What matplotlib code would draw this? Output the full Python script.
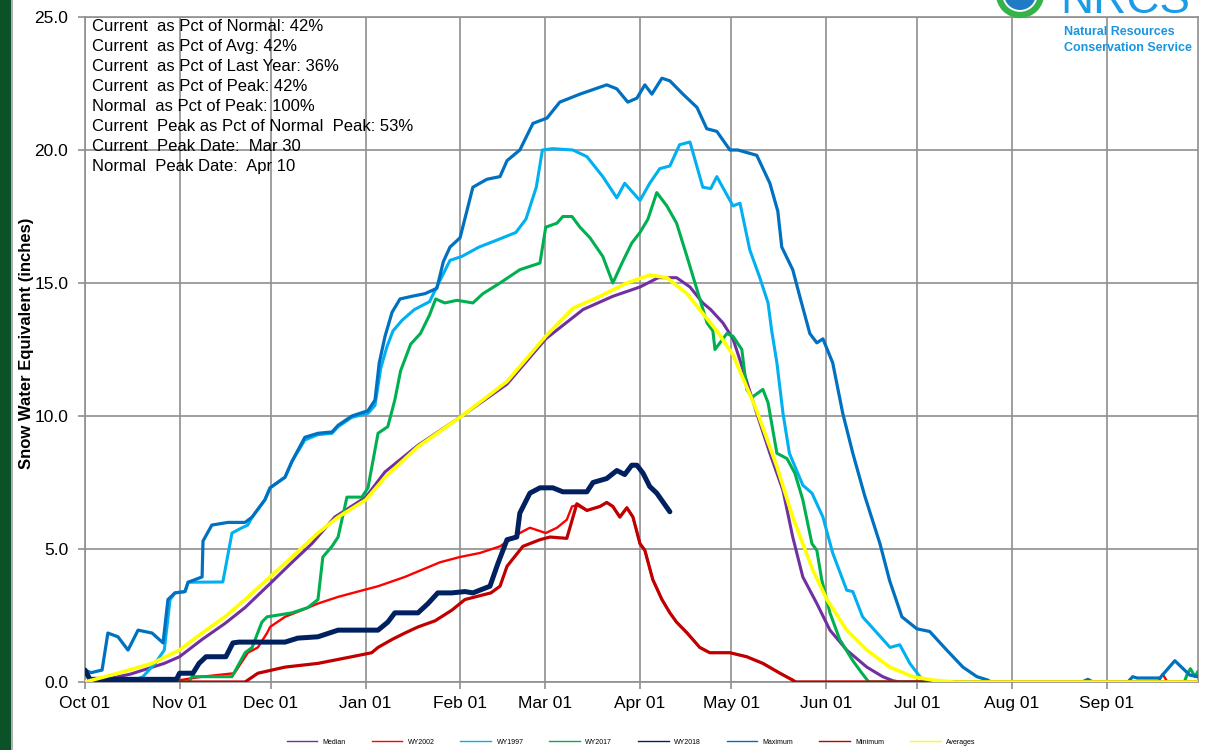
import matplotlib
matplotlib.use("Agg")
import matplotlib.pyplot as plt
from matplotlib.lines import Line2D
from matplotlib.patches import Ellipse, Rectangle

plt.rcParams['font.family'] = ['Liberation Sans', 'DejaVu Sans']

# ---------------- data (day index from Oct 01, SWE inches) ----------------
month_ticks = [0, 31, 61, 92, 123, 151, 182, 212, 243, 273, 304, 335]
month_labels = ["Oct 01", "Nov 01", "Dec 01", "Jan 01", "Feb 01", "Mar 01",
                "Apr 01", "May 01", "Jun 01", "Jul 01", "Aug 01", "Sep 01"]

median_days = [0, 5, 15, 26, 31, 38.4, 45.9, 52.5, 60.7, 67.9, 74.4, 81.9, 92.1, 98.4, 109.2,
               123.6, 138.4, 151.1, 163.3, 173.1, 182, 188, 194, 198.4, 202.6, 205.2, 209.2,
               212.5, 214.8, 220.3, 224.6, 228.9, 232.1, 235.4, 240, 244.3, 249.8, 256.4,
               261.6, 264.9, 267, 365]
median_vals = [0, 0.05, 0.3, 0.7, 0.95, 1.6, 2.2, 2.8, 3.7, 4.5, 5.2, 6.2, 6.95, 7.9, 8.9,
               10.0, 11.2, 12.9, 14.0, 14.5, 14.85, 15.2, 15.2, 14.85, 14.25, 14.0, 13.5,
               12.9, 12.1, 10.1, 8.6, 7.2, 5.45, 3.95, 2.95, 1.95, 1.2, 0.56,
               0.2, 0.05, 0, 0]

wy2002_days = [0, 30, 38.4, 49, 53.4, 56.7, 59.7, 60.7, 65.6, 71.1, 76.4, 83, 89.5, 96.1,
               104.9, 116.4, 123, 129.5, 136.1, 142.6, 145.9, 151.1, 154.8, 158, 159.7,
               161.3, 164.6, 168.9, 171.1, 173.1, 175.4, 177.7, 179.7, 182, 183.6, 186.2,
               189.2, 191.8, 194, 197.4, 201.6, 204.9, 211.5, 217, 222.3, 227.9, 232.1, 233,
               352, 353.4, 355, 365]
wy2002_vals = [0, 0.05, 0.2, 0.33, 1.1, 1.3, 1.84, 2.07, 2.45, 2.7, 2.95, 3.2, 3.4, 3.6,
               3.95, 4.5, 4.7, 4.85, 5.1, 5.6, 5.8, 5.6, 5.8, 6.1, 6.6,
               6.65, 6.45, 6.6, 6.75, 6.6, 6.2, 6.55, 6.2, 5.2, 4.95, 3.85,
               3.1, 2.6, 2.25, 1.85, 1.3, 1.1, 1.1, 0.95, 0.7, 0.33, 0.07, 0,
               0, 0.3, 0, 0]

wy1997_days = [0, 15, 19, 23, 26, 27.9, 29.5, 32.8, 33.8, 45.2, 48.2, 51.5, 53.4, 54.8, 59,
               60.7, 65.6, 67.9, 72.1, 76.4, 81, 83, 87.5, 92.8, 95.1, 97, 99, 101, 104,
               108, 113, 116, 119.7, 123.6, 129.2, 134.8, 141.3, 144.6, 148, 150, 153.4,
               160, 164.6, 169.8, 174.4, 177, 182, 185.2, 188.5, 191.8, 195, 198.4, 202.6,
               205.2, 207.2, 212.5, 214.8, 218, 221.3, 224, 225.2, 226.9, 228.9, 231,
               235.4, 238.4, 242, 245.2, 249.8, 251.8, 255, 259.7, 264, 267.2, 270.5,
               273.8, 275.4, 365]
wy1997_vals = [0, 0, 0.2, 0.7, 1.2, 3.1, 3.35, 3.4, 3.75, 3.76, 5.6, 5.8, 5.9, 6.2, 6.85,
               7.3, 7.7, 8.3, 9.1, 9.3, 9.35, 9.6, 9.95, 10.1, 10.4, 11.8, 12.6, 13.2, 13.6,
               14.0, 14.3, 15.0, 15.85, 16.0, 16.35, 16.6, 16.9, 17.4, 18.6, 20.0, 20.05,
               20.0, 19.75, 19.0, 18.2, 18.75, 18.1, 18.75, 19.3, 19.4, 20.2, 20.3, 18.6,
               18.55, 19.0, 17.9, 18.0, 16.25, 15.2, 14.25, 13.2, 12.0, 10.1, 8.6,
               7.4, 7.1, 6.2, 4.85, 3.45, 3.4, 2.45, 1.85, 1.3, 1.4, 0.7,
               0.2, 0, 0]

wy2017_days = [0, 34, 35.1, 48.2, 52.5, 54.8, 58, 59.7, 67.9, 73.1, 76.4, 78, 81, 83, 85.9,
               90.8, 92.8, 96.1, 99.3, 101.6, 103.5, 106.8, 110, 113, 115, 118, 122, 127.2,
               130.5, 136.1, 142.6, 149.2, 151.1, 154.8, 156.7, 159.7, 162.3, 165.6, 169.8,
               173.1, 176.1, 179.3, 182, 184.6, 187.5, 190.8, 194, 197.4, 200.7, 204, 205.9,
               206.6, 210.5, 212.5, 215.4, 217, 218.7, 222.3, 224, 226.9, 230.2, 232.8,
               235.4, 238.4, 240, 241.6, 244.3, 247.5, 251.8, 254.8, 256.7, 257, 360.5,
               361.5, 362.5, 364, 365]
wy2017_vals = [0, 0, 0.2, 0.2, 1.1, 1.3, 2.25, 2.45, 2.6, 2.8, 3.1, 4.7, 5.1, 5.45, 6.95,
               6.95, 7.3, 9.35, 9.6, 10.6, 11.7, 12.7, 13.1, 13.8, 14.4, 14.25, 14.35, 14.25,
               14.6, 15.0, 15.5, 15.75, 17.1, 17.25, 17.5, 17.5, 17.1, 16.7, 16.0,
               15.0, 15.75, 16.5, 16.9, 17.4, 18.4, 17.9, 17.25, 16.0, 14.75, 13.5, 13.2,
               12.5, 13.1, 13.0, 12.5, 11.0, 10.7, 11.0, 10.5, 8.6, 8.4, 7.85,
               6.85, 5.2, 4.95, 3.85, 2.6, 1.6, 0.8, 0.33, 0.05, 0, 0,
               0.3, 0.5, 0.2, 0.4]

wy2018_days = [0, 1.6, 5, 30, 31, 35.4, 37.4, 39.7, 46.2, 48.5, 50.5, 61, 65.6, 69.8, 76.4,
               83, 96.1, 99.3, 101.6, 109.2, 112.5, 115.7, 120.3, 124.6, 127.2, 132.8,
               135.4, 138.4, 141.6, 142.6, 145.9, 149.2, 153.4, 156.7, 164.6, 166.6, 171.1,
               174.4, 177, 179.3, 181, 183, 185.2, 187.5, 191.8]
wy2018_vals = [0.45, 0.1, 0.1, 0.1, 0.33, 0.33, 0.7, 0.95, 0.95, 1.47, 1.5, 1.5, 1.5, 1.65, 1.7,
               1.95, 1.95, 2.25, 2.6, 2.6, 2.95, 3.35, 3.35, 3.4, 3.35, 3.6,
               4.45, 5.35, 5.45, 6.35, 7.1, 7.3, 7.3, 7.15, 7.15, 7.5, 7.65,
               7.95, 7.8, 8.15, 8.15, 7.85, 7.35, 7.1, 6.4]

max_days = [0, 2, 5.6, 7.5, 10.8, 14.1, 17.4, 22, 25.6, 27.2, 29.5, 32.8, 33.8, 38.4, 38.7,
            41.6, 46.9, 52.5, 54.8, 59, 60.7, 65.6, 67.9, 72.1, 76.4, 81, 83, 87.5, 92.8,
            95.1, 96.5, 98.4, 100.7, 103.3, 107.2, 111.5, 115.4, 117.5, 119.7, 123, 127.2,
            131.8, 136.1, 138.4, 142.6, 146.9, 151.5, 155.7, 162.3, 171.1, 174.4, 178, 181,
            183.6, 185.9, 189.2, 191.8, 196.1, 200.7, 203.9, 207.2, 211.5, 214.1, 220.3,
            224.6, 227.2, 228.5, 232.1, 234.4, 237.7, 240, 242, 245.2, 248.5, 251.8, 255.7,
            260.7, 263.9, 267.9, 272.8, 277, 282.6, 287.9, 292.5, 296.1, 297, 327, 328.9,
            330.5, 342, 343.6, 345, 352.5, 357.4, 362.3, 365]
max_vals = [0.45, 0.35, 0.45, 1.84, 1.7, 1.2, 1.95, 1.84, 1.47, 3.1, 3.35, 3.4, 3.75, 3.95, 5.3,
            5.9, 6.0, 6.0, 6.2, 6.85, 7.3, 7.7, 8.3, 9.2, 9.35, 9.4, 9.65, 10.0, 10.2,
            10.6, 12.0, 13.0, 13.9, 14.4, 14.5, 14.6, 14.8, 15.8, 16.35, 16.7, 18.6,
            18.9, 19.0, 19.6, 20.0, 21.0, 21.2, 21.8, 22.1, 22.45, 22.3, 21.8, 21.95,
            22.45, 22.1, 22.7, 22.6, 22.1, 21.6, 20.8, 20.7, 20.0, 20.0, 19.8,
            18.75, 17.7, 16.35, 15.5, 14.5, 13.1, 12.75, 12.9, 12.0, 10.1, 8.6, 7.0,
            5.2, 3.8, 2.45, 2.0, 1.9, 1.2, 0.56, 0.2, 0.07, 0, 0, 0.1,
            0, 0, 0.2, 0.15, 0.15, 0.8, 0.26, 0.2]

min_days = [0, 52.5, 56.7, 65.6, 76.4, 87.5, 94, 96.1, 100.7, 104.9, 109.2, 114.8, 120.3,
            124.6, 133.1, 136.1, 138.4, 143.6, 149.2, 152.5, 158, 161.3, 164.6, 168.9,
            171.1, 173.1, 175.4, 177.7, 179.7, 182, 183.6, 186.2, 189.2, 191.8, 194, 197.4,
            201.6, 204.9, 211.5, 217, 222.3, 227.9, 232.1, 233, 365]
min_vals = [0, 0, 0.33, 0.56, 0.7, 0.95, 1.1, 1.3, 1.6, 1.84, 2.07, 2.3, 2.7,
            3.1, 3.35, 3.6, 4.35, 5.1, 5.35, 5.45, 5.4, 6.7, 6.45, 6.6,
            6.75, 6.6, 6.2, 6.55, 6.2, 5.2, 4.95, 3.85, 3.1, 2.6, 2.25, 1.85,
            1.3, 1.1, 1.1, 0.95, 0.7, 0.33, 0.07, 0, 0]

avg_days = [0, 10.8, 22, 31, 38.4, 45.9, 52.5, 60.7, 67.9, 76.4, 83, 92.1, 98.4, 109.2,
            123.6, 138.4, 151.1, 160, 168.9, 177.7, 185.2, 190.8, 197.4, 201.6, 207.2,
            212.5, 220.3, 226.9, 232.1, 238.7, 243.3, 249.8, 256.4, 263.9, 271.5, 278, 285,
            365]
avg_vals = [0, 0.33, 0.7, 1.2, 1.84, 2.45, 3.1, 3.95, 4.7, 5.6, 6.2, 6.85, 7.7, 8.85,
            10.0, 11.3, 13.0, 14.05, 14.5, 15.0, 15.3, 15.2, 14.6, 14.0, 13.2,
            12.3, 10.2, 8.1, 6.2, 4.2, 3.1, 1.95, 1.2, 0.56, 0.2, 0.07, 0,
            0]

stats_lines = ["Current  as Pct of Normal: 42%",
               "Current  as Pct of Avg: 42%",
               "Current  as Pct of Last Year: 36%",
               "Current  as Pct of Peak: 42%",
               "Normal  as Pct of Peak: 100%",
               "Current  Peak as Pct of Normal  Peak: 53%",
               "Current  Peak Date:  Mar 30",
               "Normal  Peak Date:  Apr 10"]

# ---------------- figure ----------------
W, H = 1209, 750
fig = plt.figure(figsize=(W / 100, H / 100), dpi=100)
fig.patch.set_facecolor("white")
ax = fig.add_axes([85 / W, 1 - 682 / H, 1113 / W, 665 / H])

series = [
    ("Median", median_days, median_vals, "#7030A0", 2.2, 3),
    ("WY2002", wy2002_days, wy2002_vals, "#FF0000", 1.7, 3),
    ("WY1997", wy1997_days, wy1997_vals, "#00B0F0", 2.2, 3),
    ("WY2017", wy2017_days, wy2017_vals, "#00B050", 2.2, 3),
    ("WY2018", wy2018_days, wy2018_vals, "#002060", 3.6, 4),
    ("Maximum", max_days, max_vals, "#0070C0", 2.3, 3),
    ("Minimum", min_days, min_vals, "#C00000", 2.3, 3),
    ("Averages", avg_days, avg_vals, "#FFFF00", 2.6, 5),
]
handles = []
for name, xs, ys, col, lw, z in series:
    ax.plot(xs, ys, color=col, lw=lw, zorder=z, solid_joinstyle="round",
            solid_capstyle="round")
    handles.append(Line2D([], [], color=col, lw=1.0))

ax.set_xlim(0, 365)
ax.set_ylim(0, 25)
ax.set_xticks(month_ticks)
ax.set_xticklabels(month_labels)
ax.set_yticks([0, 5, 10, 15, 20, 25])
ax.set_yticklabels(["0.0", "5.0", "10.0", "15.0", "20.0", "25.0"])
ax.grid(True, color="#8f8f8f", lw=1.2, zorder=0)
ax.set_axisbelow(True)
for s in ax.spines.values():
    s.set_color("#8f8f8f")
    s.set_linewidth(1.2)
ax.tick_params(axis="both", colors="#8f8f8f", labelcolor="black", labelsize=12.5,
               length=5, width=1.2)
ax.tick_params(axis="y", pad=7)
ax.tick_params(axis="x", pad=5)

ax.set_ylabel("Snow Water Equivalent (inches)", fontsize=12, fontweight="bold")
ax.yaxis.set_label_coords(-0.046, 0.51)

ax.text(7 / 1113, 1 - 2 / 665, "\n".join(stats_lines), transform=ax.transAxes,
        ha="left", va="top", fontsize=12, linespacing=1.42, zorder=6)

# left dark green strip
fig.add_artist(Rectangle((0, 0), 11 / W, 1, transform=fig.transFigure,
                         facecolor="#0B5229", edgecolor="none"))
fig.add_artist(Rectangle((11 / W, 0), 1.5 / W, 1, transform=fig.transFigure,
                         facecolor="#b0b0b0", edgecolor="none"))

# NRCS logo (partially cut at the top, as in the source image)
fig.add_artist(Ellipse((1020 / W, 1 + 6 / H), 42 / W, 42 / H, transform=fig.transFigure,
                       facecolor="none", edgecolor="#35B34A", lw=4.5))
fig.add_artist(Ellipse((1020 / W, 1 + 6 / H), 32 / W, 32 / H, transform=fig.transFigure,
                       facecolor="#1F7CC4", edgecolor="none"))
fig.text(1060 / W, 1 - 13 / H, "NRCS", color="#1C9CE6", fontsize=33, ha="left",
         va="baseline")
fig.text(1064 / W, 1 - 32 / H, "Natural Resources", color="#1A95DF", fontsize=9,
         ha="left", va="center", fontweight="bold")
fig.text(1064 / W, 1 - 48 / H, "Conservation Service", color="#1A95DF", fontsize=9,
         ha="left", va="center", fontweight="bold")

# legend
fig.legend(handles, [s[0] for s in series], loc="center", bbox_to_anchor=(0.522, 1 - 742 / H),
           ncol=8, frameon=False, fontsize=5, handlelength=4.4, handletextpad=0.8,
           columnspacing=3.7)

fig.savefig("out.png", dpi=100)
